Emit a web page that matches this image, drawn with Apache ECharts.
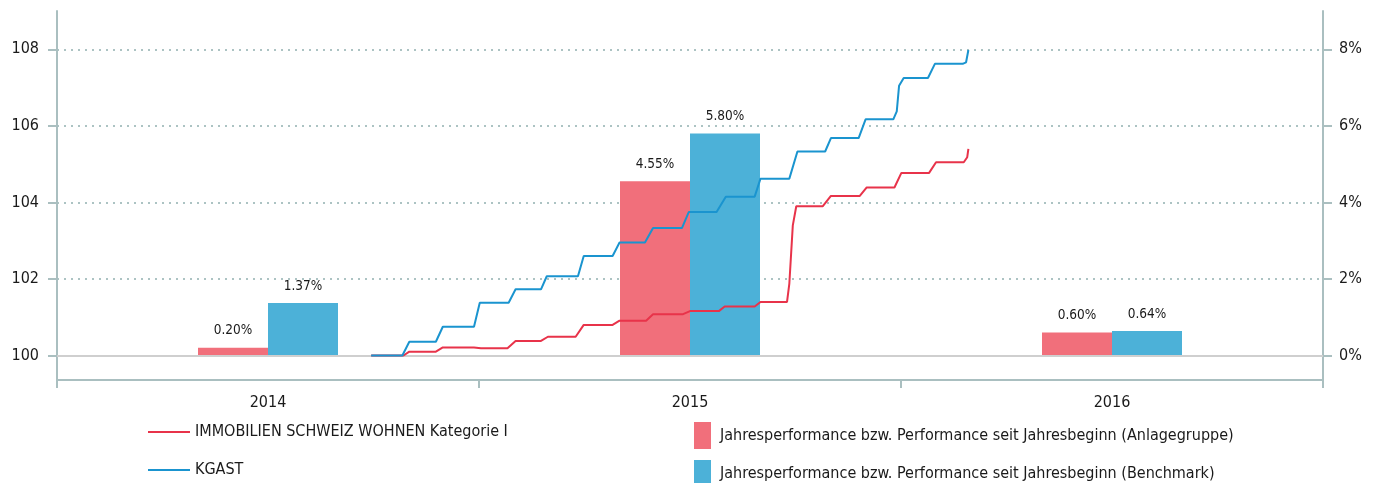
<!DOCTYPE html>
<html>
<head>
<meta charset="utf-8">
<script src="https://cdn.jsdelivr.net/npm/echarts@6/dist/echarts.min.js"></script>
<style>
  html, body { margin: 0; padding: 0; background: #ffffff; }
  #chart { width: 1380px; height: 483px; }
</style>
</head>
<body>
<div id="chart"></div>
<script>
// Calendar years shown on the category axis
const years = ['2014', '2015', '2016'];

// Annual performance / YTD performance in percent (right axis)
const fundYearPerf  = [0.20, 4.55, 0.60];
const benchYearPerf = [1.37, 5.80, 0.64];

// Tick values of both value axes
const leftTicks  = [100, 102, 104, 106, 108];
const rightTicks = [0, 2, 4, 6, 8];

// Indexed development (start = 100) of the investment group
const fundDates = [
  '2014-09-30', '2014-10-28', '2014-11-02', '2014-11-25', '2014-12-01', '2014-12-28',
  '2015-01-03', '2015-01-26', '2015-02-02', '2015-02-24', '2015-03-02', '2015-03-26',
  '2015-04-02', '2015-04-27', '2015-05-03', '2015-05-26', '2015-06-01', '2015-06-27',
  '2015-07-03', '2015-07-28', '2015-08-02', '2015-08-28', '2015-09-02', '2015-09-25',
  '2015-09-27', '2015-09-30', '2015-10-03', '2015-10-26', '2015-11-02', '2015-11-27',
  '2015-12-03', '2015-12-27', '2016-01-02', '2016-01-26', '2016-02-01', '2016-02-25',
  '2016-02-28', '2016-02-29'
];
const fundIndex = [
  100.00, 100.00, 100.10, 100.10, 100.21, 100.21,
  100.19, 100.19, 100.38, 100.38, 100.49, 100.49,
  100.80, 100.80, 100.91, 100.91, 101.08, 101.08,
  101.16, 101.16, 101.28, 101.28, 101.40, 101.40,
  101.88, 103.40, 103.90, 103.90, 104.17, 104.17,
  104.39, 104.39, 104.77, 104.77, 105.05, 105.05,
  105.18, 105.40
];

// Indexed development (start = 100) of the KGAST benchmark
const kgastDates = [
  '2014-09-30', '2014-10-27', '2014-11-02', '2014-11-25', '2014-12-01', '2014-12-28',
  '2015-01-02', '2015-01-27', '2015-02-02', '2015-02-24', '2015-03-01', '2015-03-28',
  '2015-04-02', '2015-04-27', '2015-05-03', '2015-05-25', '2015-06-01', '2015-06-26',
  '2015-07-02', '2015-07-26', '2015-08-03', '2015-08-28', '2015-09-02', '2015-09-27',
  '2015-10-04', '2015-10-28', '2015-11-02', '2015-11-26', '2015-12-02', '2015-12-26',
  '2015-12-29', '2015-12-31', '2016-01-04', '2016-01-25', '2016-01-31', '2016-02-24',
  '2016-02-27', '2016-02-29'
];
const kgastIndex = [
  100.00, 100.00, 100.36, 100.36, 100.75, 100.75,
  101.38, 101.38, 101.73, 101.73, 102.07, 102.07,
  102.60, 102.60, 102.95, 102.95, 103.33, 103.33,
  103.75, 103.75, 104.15, 104.15, 104.62, 104.62,
  105.33, 105.33, 105.68, 105.68, 106.17, 106.17,
  106.38, 107.05, 107.25, 107.25, 107.62, 107.62,
  107.66, 107.98
];

const NAME_FUND  = 'IMMOBILIEN SCHWEIZ WOHNEN Kategorie I';
const NAME_KGAST = 'KGAST';
const NAME_BAR_FUND  = 'Jahresperformance bzw. Performance seit Jahresbeginn (Anlagegruppe)';
const NAME_BAR_BENCH = 'Jahresperformance bzw. Performance seit Jahresbeginn (Benchmark)';

const FONT = '"DejaVu Sans Condensed", "DejaVu Sans", sans-serif';
const TEXT = '#1a1a1a';
const AXIS = '#aabfc0';
const GRIDLINE = '#acc3c3';

const zip = (xs, ys) => xs.map((x, i) => [x, ys[i]]);

const legendBase = {
  orient: 'horizontal',
  selectedMode: false,
  padding: 0,
  textStyle: { fontFamily: FONT, fontSize: 16, color: TEXT, lineHeight: 16 }
};

const chart = echarts.init(document.getElementById('chart'), null, { renderer: 'canvas' });

chart.setOption({
  animation: false,
  backgroundColor: '#ffffff',
  grid: { left: 57, right: 57, top: 11, bottom: 103, containLabel: false },
  legend: [
    Object.assign({}, legendBase, { left: 148, top: 424, itemWidth: 42, itemHeight: 2,
      data: [{ name: NAME_FUND, icon: 'rect' }] }),
    Object.assign({}, legendBase, { left: 148, top: 462, itemWidth: 42, itemHeight: 2,
      data: [{ name: NAME_KGAST, icon: 'rect' }] }),
    Object.assign({}, legendBase, { left: 694, top: 422, itemWidth: 17, itemHeight: 27,
      textStyle: Object.assign({}, legendBase.textStyle, { padding: [0, 0, 0, 4] }),
      data: [{ name: NAME_BAR_FUND, icon: 'rect' }] }),
    Object.assign({}, legendBase, { left: 694, top: 460, itemWidth: 17, itemHeight: 27,
      textStyle: Object.assign({}, legendBase.textStyle, { padding: [0, 0, 0, 4] }),
      data: [{ name: NAME_BAR_BENCH, icon: 'rect' }] })
  ],
  xAxis: [
    {
      type: 'category',
      data: years,
      boundaryGap: true,
      axisLine: { show: true, onZero: false, lineStyle: { color: AXIS, width: 2 } },
      axisTick: { show: true, length: 8, lineStyle: { color: AXIS, width: 2 } },
      axisLabel: { margin: 15, fontFamily: FONT, fontSize: 16, color: TEXT },
      splitLine: { show: false }
    },
    {
      type: 'time',
      show: false,
      min: '2014-01-01',
      max: '2017-01-01'
    }
  ],
  yAxis: [
    {
      type: 'value',
      position: 'left',
      min: 99.36,
      max: 109,
      axisLine: { show: true, lineStyle: { color: AXIS, width: 2 } },
      axisTick: { show: true, length: 9, customValues: leftTicks, lineStyle: { color: AXIS, width: 2 } },
      axisLabel: { margin: 18, customValues: leftTicks, fontFamily: FONT, fontSize: 16, color: TEXT,
        formatter: v => String(Math.round(v)) },
      splitLine: { show: true, lineStyle: { color: GRIDLINE, width: 2, type: [2, 5] } }
    },
    {
      type: 'value',
      position: 'right',
      min: -0.64,
      max: 9,
      axisLine: { show: true, lineStyle: { color: AXIS, width: 2 } },
      axisTick: { show: true, length: 9, customValues: rightTicks, lineStyle: { color: AXIS, width: 2 } },
      axisLabel: { margin: 16, customValues: rightTicks, fontFamily: FONT, fontSize: 16, color: TEXT,
        formatter: v => Math.round(v) + '%' },
      splitLine: { show: false }
    }
  ],
  series: [
    {
      name: NAME_BAR_FUND,
      type: 'bar',
      xAxisIndex: 0,
      yAxisIndex: 1,
      data: fundYearPerf,
      barWidth: 70,
      barGap: '0%',
      itemStyle: { color: '#f16f7b' },
      label: { show: true, position: 'top', distance: 10, fontFamily: FONT, fontSize: 13.5, color: TEXT,
        formatter: p => p.value.toFixed(2) + '%' },
      markLine: {
        silent: true,
        symbol: 'none',
        label: { show: false },
        lineStyle: { color: '#cfcfcf', type: 'solid', width: 2 },
        data: [{ yAxis: 0 }]
      },
      z: 2
    },
    {
      name: NAME_BAR_BENCH,
      type: 'bar',
      xAxisIndex: 0,
      yAxisIndex: 1,
      data: benchYearPerf,
      barWidth: 70,
      barGap: '0%',
      itemStyle: { color: '#4cb1d8' },
      label: { show: true, position: 'top', distance: 10, fontFamily: FONT, fontSize: 13.5, color: TEXT,
        formatter: p => p.value.toFixed(2) + '%' },
      z: 2
    },
    {
      name: NAME_FUND,
      type: 'line',
      xAxisIndex: 1,
      yAxisIndex: 0,
      data: zip(fundDates, fundIndex),
      symbol: 'none',
      showSymbol: false,
      color: '#e8334a',
      lineStyle: { color: '#e8334a', width: 2 },
      z: 5
    },
    {
      name: NAME_KGAST,
      type: 'line',
      xAxisIndex: 1,
      yAxisIndex: 0,
      data: zip(kgastDates, kgastIndex),
      symbol: 'none',
      showSymbol: false,
      color: '#1a94cf',
      lineStyle: { color: '#1a94cf', width: 2 },
      z: 5
    }
  ]
});
</script>
</body>
</html>
